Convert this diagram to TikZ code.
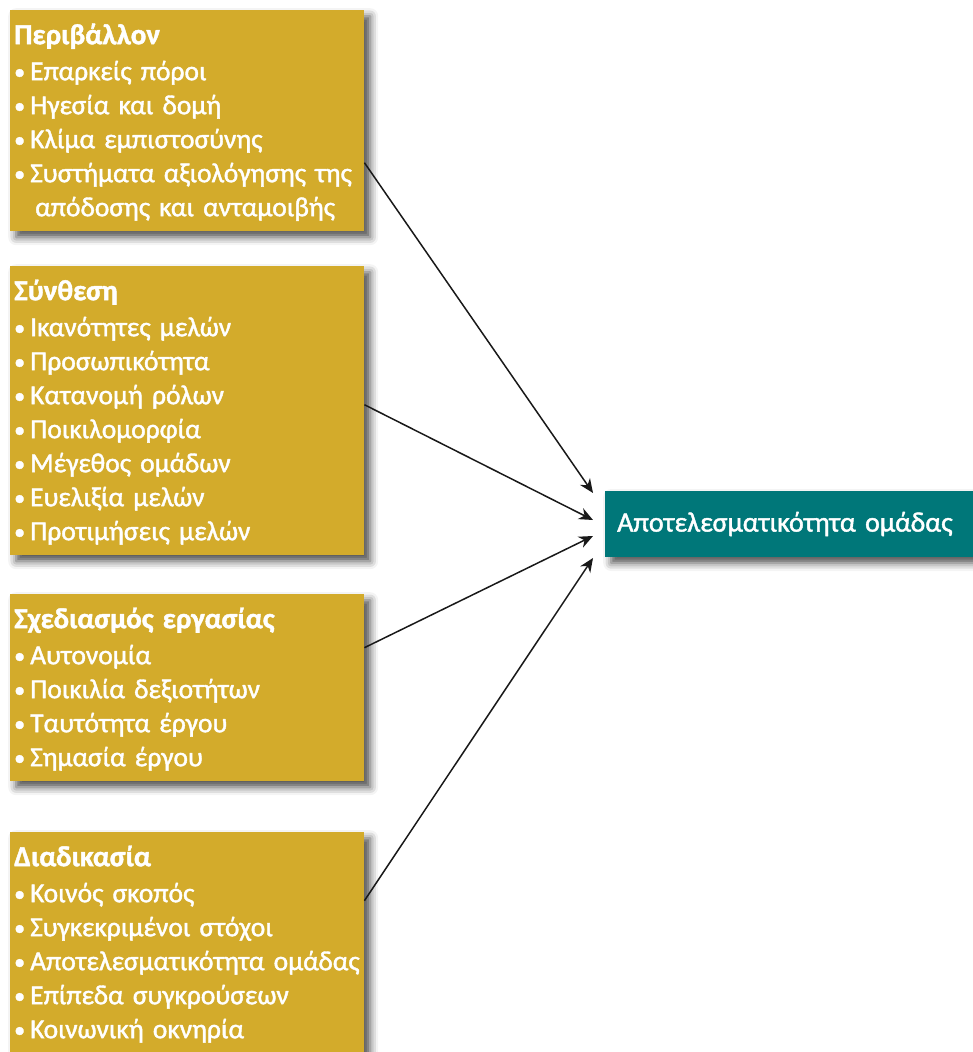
\documentclass[tikz,border=0pt]{standalone}
\usepackage{fontspec}
\setmainfont{Carlito}[RawFeature={embolden=1.5}]
\usetikzlibrary{arrows.meta,shadows.blur}

\definecolor{factorgold}{RGB}{211,171,43}
\definecolor{outcometeal}{RGB}{0,119,121}

\newcommand{\itm}{\makebox[16pt][l]{\raisebox{1pt}{\fontsize{22}{22}\selectfont •}}}
\newcommand{\cont}{\hspace*{21pt}}
\newcommand{\head}[1]{\rule{0pt}{34pt}{\fontsize{29}{34}\selectfont\bfseries #1}\\[2pt]}
\newcommand{\lastline}{\rule[-15pt]{0pt}{15pt}}

\begin{document}
\begin{tikzpicture}[x=1pt, y=-1pt,
  factorbox/.style={anchor=north west, fill=factorgold, text=white,
    text width=346pt, inner xsep=4pt, inner ysep=0pt, align=left,
    font=\fontsize{27.5}{34}\selectfont,
    blur shadow={shadow xshift=6pt, shadow yshift=-6pt, shadow blur radius=8pt, shadow opacity=70}},
  outcomebox/.style={anchor=west, fill=outcometeal, text=white,
    text width=344pt, minimum height=66pt, inner xsep=12pt, align=left,
    font=\fontsize{28}{34}\selectfont,
    blur shadow={shadow xshift=6pt, shadow yshift=-6pt, shadow blur radius=8pt, shadow opacity=70}},
  link/.style={-{Stealth[length=14pt,width=12pt,inset=4.5pt]}, line width=1.5pt, black!90}]

\useasboundingbox (0,0) rectangle (973,1052);

% ---- factor boxes ----------------------------------------------------------
\node[factorbox] (env) at (10,10) {\head{Περιβάλλον}
  \itm Επαρκείς πόροι\\
  \itm Ηγεσία και δομή\\
  \itm Κλίμα εμπιστοσύνης\\
  \itm Συστήματα αξιολόγησης της\\
  \cont απόδοσης και ανταμοιβής\lastline};

\node[factorbox] (comp) at (10,266) {\head{Σύνθεση}
  \itm Ικανότητες μελών\\
  \itm Προσωπικότητα\\
  \itm Κατανομή ρόλων\\
  \itm Ποικιλομορφία\\
  \itm Μέγεθος ομάδων\\
  \itm Ευελιξία μελών\\
  \itm Προτιμήσεις μελών\lastline};

\node[factorbox] (task) at (10,594) {\head{Σχεδιασμός εργασίας}
  \itm Αυτονομία\\
  \itm Ποικιλία δεξιοτήτων\\
  \itm Ταυτότητα έργου\\
  \itm Σημασία έργου\lastline};

\node[factorbox] (proc) at (10,832) {\head{Διαδικασία}
  \itm Κοινός σκοπός\\
  \itm Συγκεκριμένοι στόχοι\\
  \itm Αποτελεσματικότητα ομάδας\\
  \itm Επίπεδα συγκρούσεων\\
  \itm Κοινωνική οκνηρία\lastline};

% ---- outcome ---------------------------------------------------------------
\node[outcomebox] (outcome) at (605,524) {Αποτελεσματικότητα ομάδας};

% ---- links -----------------------------------------------------------------
\foreach \src/\from/\to in {env/42/-31, comp/-6/-4, task/-40/12, proc/-42/34}
  \draw[link] ([shift={(0,\from)}]\src.east) -- ([shift={(-12,\to)}]outcome.west);

\end{tikzpicture}
\end{document}
